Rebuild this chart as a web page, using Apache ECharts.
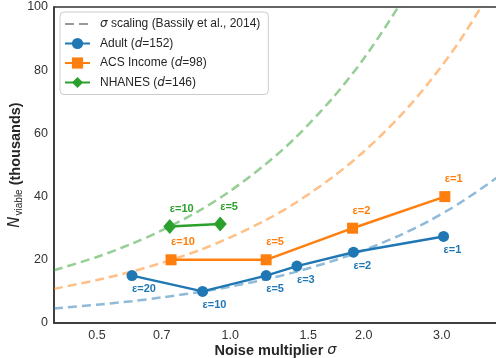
<!DOCTYPE html>
<html>
<head>
<meta charset="utf-8">
<script src="https://cdn.jsdelivr.net/npm/echarts@6/dist/echarts.min.js"></script>
<style>
html,body{margin:0;padding:0;background:#fff;}
#chart{width:496px;height:358px;}
</style>
</head>
<body>
<div id="chart"></div>
<script>
// ---- data ----
var xTicks = [0.5, 0.7, 1.0, 1.5, 2.0, 3.0];
var yTicks = [0, 20, 40, 60, 80, 100];

var adultSigma = [0.60, 0.866, 1.205, 1.414, 1.897, 3.03];
var adultN     = [15, 10, 15, 18, 22.4, 27.4];
var adultEps   = [20, 10, 5, 3, 2, 1];

var acsSigma = [0.735, 1.205, 1.888, 3.05];
var acsN     = [20, 20, 30, 40];
var acsEps   = [10, 5, 2, 1];

var nhSigma = [0.73, 0.949];
var nhN     = [30.5, 31.3];
var nhEps   = [10, 5];

// dashed reference curves
var curveSigma  = [0.4, 0.5, 0.6, 0.7, 0.85, 1.0, 1.2, 1.4, 1.7, 2.0, 2.4, 2.8, 3.3, 4.0];
var curveAdult  = [4.6, 5.8, 6.9, 8.1, 9.8, 11.5, 13.8, 16.1, 19.6, 23.0, 27.6, 32.2, 38.0, 46.0];
var curveAcs    = [10.8, 13.6, 16.3, 19.0, 23.0, 27.1, 32.5, 37.9, 46.1, 54.2, 65.0, 75.9, 89.4, 108.4];
var curveNh     = [16.7, 20.9, 25.1, 29.3, 35.5, 41.8, 50.2, 58.5, 71.1, 83.6, 100.3, 117.0, 137.9, 167.2];

var names = {
  curve: 'σ scaling (Bassily et al., 2014)',
  adult: 'Adult (d=152)',
  acs: 'ACS Income (d=98)',
  nh: 'NHANES (d=146)'
};

function pairs(xs, ys){ return xs.map(function(x,i){ return [x, ys[i]]; }); }

var FONT = 'Liberation Sans, Arial, sans-serif';
var BLUE = '#1f77b4', ORANGE = '#ff7f0e', GREEN = '#2ca02c';

function curveSeries(ys, color){
  return {
    name: names.curve, type: 'line', data: pairs(curveSigma, ys),
    symbol: 'none', smooth: 0.3, clip: true, z: 1, silent: true,
    lineStyle: {color: color, width: 2.5, type: [9, 5], opacity: 0.5},
    itemStyle: {color: color}
  };
}

function dataSeries(name, xs, ys, eps, color, symbol, size, pos, dist){
  return {
    name: name, type: 'line', data: pairs(xs, ys), z: 3,
    symbol: symbol, symbolSize: size, showSymbol: true,
    lineStyle: {color: color, width: 2.5},
    itemStyle: {color: color, opacity: 1},
    label: {
      show: true, position: pos, distance: dist, align: 'left',
      color: color, fontWeight: 'bold', fontSize: 11, fontFamily: FONT,
      formatter: function(p){ return 'ε=' + eps[p.dataIndex]; }
    }
  };
}

var legendRich = {
  i: {fontStyle: 'italic', fontFamily: 'DejaVu Sans', fontSize: 12, color: '#262626'},
  t: {fontFamily: FONT, fontSize: 12, color: '#262626'}
};

var chart = echarts.init(document.getElementById('chart'), null, {renderer: 'canvas'});
chart.setOption({
  animation: false,
  backgroundColor: '#fff',
  grid: {left: 54, top: 7, right: -1, bottom: 35, containLabel: false, outerBoundsMode: 'none',
         show: true, borderColor: '#333', borderWidth: 1.5, backgroundColor: 'transparent'},
  xAxis: {
    type: 'log', logBase: 10, min: 0.4, max: 4,
    axisLine: {show: true, lineStyle: {color: '#333', width: 1.5}},
    axisTick: {show: false},
    minorTick: {show: false},
    splitLine: {show: false},
    axisLabel: {
      customValues: xTicks, color: '#333', fontSize: 12.5, fontFamily: FONT, margin: 6,
      formatter: function(v){ return Number(v).toFixed(1); }
    },
    name: '{b|Noise multiplier }{i|σ}',
    nameLocation: 'middle', nameGap: 20, nameMoveOverlap: false,
    nameTextStyle: {
      rich: {
        b: {fontWeight: 'bold', fontSize: 14.5, fontFamily: FONT, color: '#262626'},
        i: {fontStyle: 'italic', fontSize: 14.5, fontFamily: 'DejaVu Sans', color: '#262626'}
      }
    }
  },
  yAxis: {
    type: 'value', min: 0, max: 100, interval: 20,
    axisLine: {show: true, lineStyle: {color: '#333', width: 1.5}},
    axisTick: {show: false},
    splitLine: {show: false},
    axisLabel: {customValues: yTicks, color: '#333', fontSize: 12.5, fontFamily: FONT, margin: 6},
    name: '{n|N}{s|viable}{b| (thousands)}',
    nameLocation: 'middle', nameGap: 30, nameMoveOverlap: false,
    nameTextStyle: {
      rich: {
        n: {fontStyle: 'italic', fontSize: 15, fontFamily: 'DejaVu Sans', color: '#262626'},
        s: {fontSize: 10, fontFamily: FONT, color: '#262626', padding: [7, 0, 0, 1]},
        b: {fontWeight: 'bold', fontSize: 14.5, fontFamily: FONT, color: '#262626'}
      }
    }
  },
  legend: {
    orient: 'vertical', left: 60, top: 12,
    padding: [6, 8, 6, 4],
    itemWidth: 25, itemHeight: 14, itemGap: 7.5,
    backgroundColor: 'rgba(255,255,255,0.85)',
    borderColor: '#cccccc', borderWidth: 1, borderRadius: 4,
    textStyle: {fontFamily: FONT, fontSize: 12, color: '#262626', rich: legendRich, padding: [0, 0, 0, 5]},
    formatter: function(name){
      if (name === names.curve) return '{i|σ}{t| scaling (Bassily et al., 2014)}';
      if (name === names.adult) return '{t|Adult (}{i|d}{t|=152)}';
      if (name === names.acs) return '{t|ACS Income (}{i|d}{t|=98)}';
      return '{t|NHANES (}{i|d}{t|=146)}';
    },
    data: [
      {name: names.curve, lineStyle: {color: '#999999', opacity: 1}, itemStyle: {opacity: 0}},
      names.adult, names.acs, names.nh
    ]
  },
  series: [
    curveSeries(curveAdult, BLUE),
    curveSeries(curveAcs, ORANGE),
    curveSeries(curveNh, GREEN),
    dataSeries(names.adult, adultSigma, adultN, adultEps, BLUE, 'circle', 11, 'bottom', 2.5),
    dataSeries(names.acs, acsSigma, acsN, acsEps, ORANGE, 'rect', 11, 'top', 6.5),
    dataSeries(names.nh, nhSigma, nhN, nhEps, GREEN, 'diamond', [13, 15], 'top', 4.5)
  ]
});
</script>
</body>
</html>
